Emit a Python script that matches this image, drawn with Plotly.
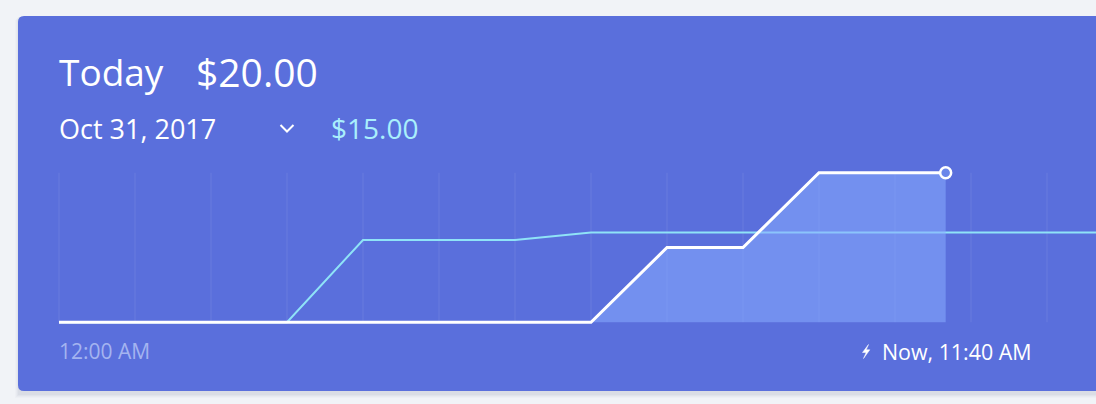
import plotly.graph_objects as go

# ---- data ----
hours = list(range(0, 25))
yesterday_vals = [0, 0, 0, 0, 11, 11, 11, 12, 12, 12, 12, 12, 12, 12, 12, 12, 15, 15, 15, 15, 15, 15, 15, 15, 15]
today_hours = [0, 1, 2, 3, 4, 5, 6, 7, 8, 9, 10, 11, 11 + 40 / 60]
today_vals = [0, 0, 0, 0, 0, 0, 0, 0, 10, 10, 20, 20, 20]
title_label = "Today"
today_total = "$20.00"
compare_date = "Oct 31, 2017"
compare_total = "$15.00"
start_label = "12:00 AM"
now_label = "Now, 11:40 AM"

W, H = 1096, 404
BG = "#F1F3F7"
CARD = "#5A6FDC"
CYAN = "#8FE3F7"

def px(x):
    return x / W

def py(y):
    return 1 - y / H

# axis mapping: hour 0 at pixel 59, 76 px per hour; value 0 at 322.3, 20 at 172.7
x0_px, hour_px = 59, 76
y0_px, unit_px = 322.3, (322.3 - 172.7) / 20
xr = [-x0_px / hour_px, (W - x0_px) / hour_px]
yr = [-(H - y0_px) / unit_px, y0_px / unit_px]

fig = go.Figure()

fig.add_trace(go.Scatter(
    x=hours, y=yesterday_vals, mode="lines",
    line=dict(color=CYAN, width=2), hoverinfo="skip", showlegend=False))

fig.add_trace(go.Scatter(
    x=today_hours, y=today_vals, mode="lines",
    line=dict(color="white", width=3), fill="tozeroy",
    fillcolor="rgba(137,171,255,0.55)", hoverinfo="skip", showlegend=False))

fig.add_trace(go.Scatter(
    x=[today_hours[-1]], y=[today_vals[-1]], mode="markers",
    marker=dict(size=11, color="#6A86EA", line=dict(color="white", width=2.5)),
    hoverinfo="skip", showlegend=False))

shapes = []
# card shadow
for i, a in enumerate([0.02, 0.025, 0.03, 0.035]):
    o = 4 - i
    shapes.append(dict(type="rect", xref="paper", yref="paper",
                       x0=px(18 - o + 1), x1=px(W + 20), y0=py(391 + o + 3), y1=py(16 + o),
                       fillcolor=f"rgba(40,50,80,{a})", line=dict(width=0), layer="below"))
# card with rounded corners
r = 6
cx0, cx1, cyt, cyb = 18, W + 20, 16, 391
path = (f"M {px(cx0 + r)},{py(cyt)} L {px(cx1)},{py(cyt)} L {px(cx1)},{py(cyb)} "
        f"L {px(cx0 + r)},{py(cyb)} Q {px(cx0)},{py(cyb)} {px(cx0)},{py(cyb - r)} "
        f"L {px(cx0)},{py(cyt + r)} Q {px(cx0)},{py(cyt)} {px(cx0 + r)},{py(cyt)} Z")
shapes.append(dict(type="path", xref="paper", yref="paper", path=path,
                   fillcolor=CARD, line=dict(width=0), layer="below"))
# hourly grid lines
for h in hours:
    shapes.append(dict(type="line", xref="x", yref="y", x0=h, x1=h, y0=0, y1=20,
                       line=dict(color="rgba(255,255,255,0.09)", width=1), layer="below"))
# chevron
shapes.append(dict(type="path", xref="paper", yref="paper",
                   path=f"M {px(280.5)},{py(125)} L {px(287)},{py(131.5)} L {px(293.5)},{py(125)}",
                   line=dict(color="white", width=2)))
# lightning bolt
bolt = [(868.5, 344.5), (862.5, 352.5), (866.2, 352.5), (863.5, 358.5), (869.8, 349.8), (866.2, 349.8), (868.5, 344.5)]
shapes.append(dict(type="path", xref="paper", yref="paper",
                   path="M " + " L ".join(f"{px(a)},{py(b)}" for a, b in bolt) + " Z",
                   fillcolor="white", line=dict(color="white", width=0.5)))

FONT = "Open Sans"
ann = []
def text(t, x, y, size, color, anchor="left"):
    ann.append(dict(text=t, x=px(x), y=py(y), xref="paper", yref="paper",
                    xanchor=anchor, yanchor="middle", showarrow=False,
                    font=dict(family=FONT, size=size, color=color)))

text(title_label, 57, 72, 37, "white")
text(today_total, 194, 72, 39, "white")
text(compare_date, 57, 128, 27, "white")
text(compare_total, 329, 128, 28, "#A9EFFC")
text(start_label, 57, 351, 21, "#A4B4F0")
text(now_label, 1034, 351, 21.4, "white", anchor="right")

fig.update_layout(
    width=W, height=H, margin=dict(l=0, r=0, t=0, b=0),
    paper_bgcolor=BG, plot_bgcolor="rgba(0,0,0,0)",
    xaxis=dict(range=xr, visible=False, fixedrange=True),
    yaxis=dict(range=yr, visible=False, fixedrange=True),
    shapes=shapes, annotations=ann, showlegend=False,
)

fig.write_html("out.html", config={"displayModeBar": False},
               post_script="document.body.style.margin='0';document.body.style.overflow='hidden';")
